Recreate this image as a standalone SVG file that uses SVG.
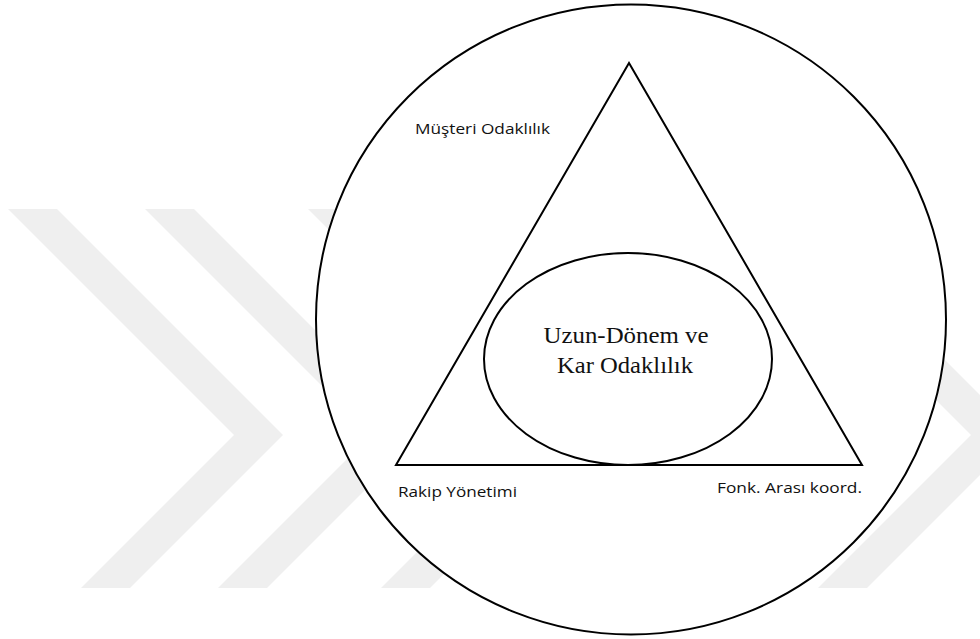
<svg xmlns="http://www.w3.org/2000/svg" width="980" height="639" viewBox="0 0 980 639">
  <style>
    .ln { fill: none; stroke: #000; stroke-width: 2; }
    .wm { fill: #efefef; stroke: none; }
    .lbl { font-family: "Open Sans", "Liberation Sans", sans-serif; font-size: 15px; fill: #111; }
    .ctr { font-family: "Liberation Serif", "Times New Roman", serif; font-size: 24px; fill: #111; text-anchor: middle; }
  </style>
  <rect width="980" height="639" fill="#fff"/>
  <g id="watermark">
    <polygon class="wm" points="8,209 57,209 283,435 130,588 81,588 234,435"/>
    <polygon class="wm" points="145,209 194,209 420,435 267,588 218,588 371,435"/>
    <polygon class="wm" points="308,209 357,209 583,435 430,588 381,588 534,435"/>
    <polygon class="wm" points="745,209 794,209 1020,435 867,588 818,588 971,435"/>
  </g>
  <g id="outer-circle">
    <circle cx="631" cy="319.5" r="315" fill="#fff" stroke="#000" stroke-width="2"/>
  </g>
  <g id="triangle">
    <polygon class="ln" points="629,63 396,465 862,465" stroke-linejoin="miter"/>
  </g>
  <g id="inner-ellipse">
    <ellipse class="ln" cx="628" cy="359" rx="144" ry="106"/>
    <text class="ctr" x="626" y="343" textLength="165" lengthAdjust="spacingAndGlyphs">Uzun-Dönem ve</text>
    <text class="ctr" x="625" y="373" textLength="136" lengthAdjust="spacingAndGlyphs">Kar Odaklılık</text>
  </g>
  <g id="label-musteri">
    <text class="lbl" x="415" y="134" textLength="135" lengthAdjust="spacingAndGlyphs">Müşteri Odaklılık</text>
  </g>
  <g id="label-rakip">
    <text class="lbl" x="398" y="497" textLength="119" lengthAdjust="spacingAndGlyphs">Rakip Yönetimi</text>
  </g>
  <g id="label-fonk">
    <text class="lbl" x="717" y="493" textLength="145" lengthAdjust="spacingAndGlyphs">Fonk. Arası koord.</text>
  </g>
  <g id="connectors"></g>
</svg>
